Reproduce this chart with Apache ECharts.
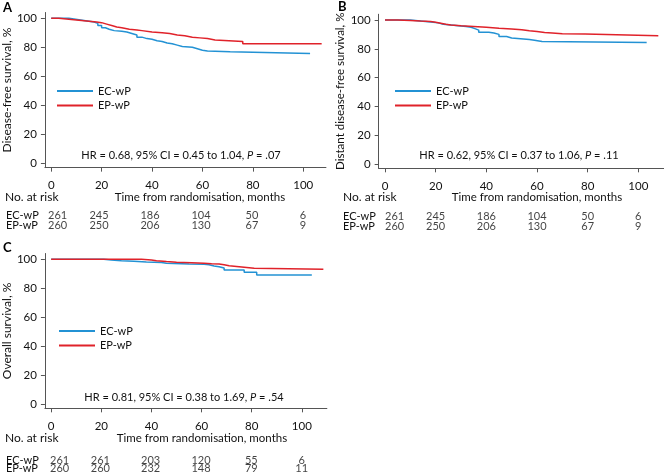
<!DOCTYPE html>
<html><head><meta charset="utf-8">
<script src="https://cdn.jsdelivr.net/npm/echarts@6/dist/echarts.min.js"></script>
<style>html,body{margin:0;padding:0;background:#fff}#c{width:667px;height:474px}</style>
</head><body><div id="c"></div>
<script>
// ---------- DATA ----------
const groups = ['EC-wP', 'EP-wP'];
const tickValues = [0, 20, 40, 60, 80, 100];
const riskTimes = [0, 20, 40, 60, 80, 100];

// Panel A: disease-free survival
const dfsEC_t = [0, 7, 9, 11, 13, 15, 17, 18.5, 20, 21.5, 23, 25, 28, 30, 32, 34, 36, 38, 40, 42, 44, 46, 48, 50, 52, 56, 58, 60, 62, 71, 102.7];
const dfsEC_s = [100, 99.5, 99, 98.5, 98, 97.5, 96.5, 95, 93.5, 92.5, 91.5, 91, 90.5, 89.5, 88.5, 87, 86, 85.5, 84.5, 84, 83, 82.5, 81.5, 80.5, 80, 79, 78, 77.5, 77, 75.8, 75.8];
const dfsEP_t = [0, 3, 6, 9, 12, 15, 18, 20, 22, 24, 26, 28, 31, 34, 36, 40, 44, 47, 50, 53, 56, 59, 62, 65, 76, 107.3];
const dfsEP_s = [100, 99.5, 99, 98.5, 98, 97.5, 97, 96, 95, 94, 93.5, 92.5, 92, 91.5, 90.5, 90, 89.5, 88.5, 88, 87, 86.5, 86, 85, 84, 82.5, 82.5];

// Panel B: distant disease-free survival
const ddfsEC_t = [0, 10, 13, 16, 19, 21, 23, 26, 29, 32, 34, 35.5, 37, 41, 43, 45, 48, 50, 57, 59, 62, 103.3];
const ddfsEC_s = [100, 99.5, 99, 98.5, 98, 97, 96.5, 96, 95.5, 95, 94, 93, 91.5, 91, 90, 88.5, 87.5, 86.5, 86, 85, 84.3, 84.3];
const ddfsEP_t = [0, 5, 10, 14, 18, 20, 22, 24, 26, 30, 35, 40, 45, 50, 54, 57, 60, 63, 66, 70, 79, 107.9];
const ddfsEP_s = [100, 99.7, 99.3, 99, 98.5, 97.8, 97, 96.5, 96, 95.5, 95, 94.3, 93.8, 93.3, 92.5, 92, 91.3, 91, 90.5, 90.2, 89.1, 89.1];

// Panel C: overall survival
const osEC_t = [0, 21, 24, 28, 33, 38, 44, 46, 55, 61, 63, 65, 67, 69, 77, 82, 104];
const osEC_s = [100, 99.5, 99, 98.6, 98.2, 97.8, 97.3, 96.8, 96.6, 96.2, 95.4, 94.8, 94, 92.6, 91, 89.2, 89.2];
const osEP_t = [0, 36, 40, 42, 46, 50, 56, 61, 64, 67, 69, 71, 75, 78, 81, 108.6];
const osEP_s = [100, 99.5, 99, 98.4, 98, 97.6, 97.3, 97, 96.8, 96.2, 95.5, 94.9, 94.4, 93.8, 93.1, 93.1];

// Numbers at risk
const riskA_EC = [261, 245, 186, 104, 50, 6];
const riskA_EP = [260, 250, 206, 130, 67, 9];
const riskB_EC = [261, 245, 186, 104, 50, 6];
const riskB_EP = [260, 250, 206, 130, 67, 9];
const riskC_EC = [261, 261, 203, 120, 55, 6];
const riskC_EP = [260, 260, 232, 148, 79, 11];

const panelLetters = ['A', 'B', 'C'];
const yNames = ['Disease-free survival, %', 'Distant disease-free survival, %', 'Overall survival, %'];
const hrTexts = ['HR = 0.68, 95% CI = 0.45 to 1.04, {i|P} = .07', 'HR = 0.62, 95% CI = 0.37 to 1.06, {i|P} = .11', 'HR = 0.81, 95% CI = 0.38 to 1.69, {i|P} = .54'];
const xTitle = 'Time from randomisation, months';
const riskTitle = 'No. at risk';

// ---------- LAYOUT ----------
const FONT = 'Lato, "Noto Sans", sans-serif';
const TXT = '#111';
const AX = '#555';
const COLORS = ['#2392d4', '#e0222a'];
const xMin = -2.5, yMin = -3, yMax = 104;
const panels = [
  { x0: 48, xs: 2.55, y0: 163.3, ys: 1.45, xMax: 109, letter: [3, 7.5], hr: [181, 155], legend: [57, 84], riskTop: 210.5, riskH: 20, nameX: 6, noRisk: [5, 197], xt: [200, 197], firstOff: -2, yNameSize: 12,
    curves: [[dfsEC_t, dfsEC_s], [dfsEP_t, dfsEP_s]], risk: [riskA_EC, riskA_EP] },
  { x0: 385, xs: 2.533, y0: 164, ys: 1.44, xMax: 110, letter: [338, 6.5], hr: [519, 155], legend: [395, 84], riskTop: 211.5, riskH: 20, nameX: 343, noRisk: [343, 197.5], xt: [537, 197.5], firstOff: -3, yNameSize: 11.5,
    curves: [[ddfsEC_t, ddfsEC_s], [ddfsEP_t, ddfsEP_s]], risk: [riskB_EC, riskB_EP] },
  { x0: 50, xs: 2.517, y0: 404, ys: 1.447, xMax: 110, letter: [3, 247.5], hr: [184, 397], legend: [59, 324], riskTop: 456.5, riskH: 18, nameX: 6, noRisk: [5, 438], xt: [202, 438], firstOff: -6, yNameSize: 12,
    curves: [[osEC_t, osEC_s], [osEP_t, osEP_s]], risk: [riskC_EC, riskC_EP] }
];

const grid = [], xAxis = [], yAxis = [], series = [], legend = [], graphic = [];
panels.forEach((p, i) => {
  const left = p.x0 + xMin * p.xs, width = (p.xMax - xMin) * p.xs;
  const top = p.y0 - yMax * p.ys, height = (yMax - yMin) * p.ys;
  grid.push({ left, top, width, height });
  xAxis.push({
    type: 'value', gridIndex: i, min: xMin, max: p.xMax,
    axisLine: { show: true, onZero: false, lineStyle: { color: AX, width: 1 } },
    axisTick: { show: true, length: 4, customValues: tickValues, lineStyle: { color: AX } },
    axisLabel: { customValues: tickValues, fontSize: 11.5, fontFamily: FONT, color: TXT, margin: 12 },
    splitLine: { show: false }
  });
  yAxis.push({
    type: 'value', gridIndex: i, min: yMin, max: yMax,
    name: yNames[i], nameLocation: 'middle', nameGap: 28,
    nameTextStyle: { fontSize: p.yNameSize, fontFamily: FONT, color: TXT },
    axisLine: { show: true, onZero: false, lineStyle: { color: AX, width: 1 } },
    axisTick: { show: true, length: 4, customValues: tickValues, lineStyle: { color: AX } },
    axisLabel: { customValues: tickValues, fontSize: 11.5, fontFamily: FONT, color: TXT, margin: 8 },
    splitLine: { show: false }
  });
  p.curves.forEach((c, g) => {
    series.push({
      type: 'line', name: groups[g], xAxisIndex: i, yAxisIndex: i,
      step: 'end', showSymbol: false, symbol: 'none', silent: true,
      color: COLORS[g], lineStyle: { width: 1.5, color: COLORS[g] },
      data: c[0].map((t, k) => [t, c[1][k]]), z: 3 + g
    });
  });
  legend.push({
    left: p.legend[0], top: p.legend[1], orient: 'vertical', data: groups, padding: 0,
    icon: 'rect', itemWidth: 36, itemHeight: 2, itemGap: 0.5, selectedMode: false,
    textStyle: { fontSize: 11, lineHeight: 14, fontFamily: FONT, color: TXT }
  });
  graphic.push({ type: 'text', x: p.letter[0], y: p.letter[1], style: { text: panelLetters[i], font: 'bold 13px ' + FONT, fill: '#000', verticalAlign: 'middle' } });
  graphic.push({ type: 'text', x: p.hr[0], y: p.hr[1], style: { text: hrTexts[i], rich: { i: { fontStyle: 'italic', fontSize: 11, fontFamily: FONT, fill: TXT } }, fontSize: 11, fontFamily: FONT, fill: TXT, align: 'center', verticalAlign: 'middle' } });
  graphic.push({ type: 'text', x: p.noRisk[0], y: p.noRisk[1], style: { text: riskTitle, fontSize: 12, fontFamily: FONT, fill: TXT, verticalAlign: 'middle' } });
  graphic.push({ type: 'text', x: p.xt[0], y: p.xt[1], style: { text: xTitle, fontSize: 11.5, fontFamily: FONT, fill: TXT, align: 'center', verticalAlign: 'middle' } });
});

// risk table grids
panels.forEach((p, i) => {
  const gi = 3 + i;
  const left = p.x0 + xMin * p.xs, width = (p.xMax - xMin) * p.xs;
  grid.push({ left, top: p.riskTop, width, height: p.riskH });
  xAxis.push({ type: 'value', gridIndex: gi, min: xMin, max: p.xMax, show: false });
  yAxis.push({
    type: 'category', gridIndex: gi, data: groups, inverse: true,
    axisLine: { show: false }, axisTick: { show: false }, splitLine: { show: false },
    axisLabel: { show: true, interval: 0, hideOverlap: false, align: 'left', margin: left - p.nameX, fontSize: 11, fontFamily: FONT, color: TXT }
  });
  p.risk.forEach((r, g) => {
    series.push({
      type: 'scatter', name: 'risk' + i + g, xAxisIndex: gi, yAxisIndex: gi,
      symbol: 'circle', symbolSize: 1, itemStyle: { color: 'rgba(0,0,0,0)' }, silent: true,
      label: { show: true, position: 'inside', formatter: (q) => String(q.value[2]), fontSize: 11, fontFamily: FONT, color: TXT },
      labelLayout: { hideOverlap: false },
      data: riskTimes.map((t, k) => ({ value: [t, g, r[k]], label: k === 0 ? { align: 'left', offset: [p.firstOff, 0] } : undefined }))
    });
  });
});

const chart = echarts.init(document.getElementById('c'), null, { renderer: 'canvas' });
chart.setOption({ animation: false, backgroundColor: '#fff', grid, xAxis, yAxis, series, legend, graphic });
</script>
</body></html>
